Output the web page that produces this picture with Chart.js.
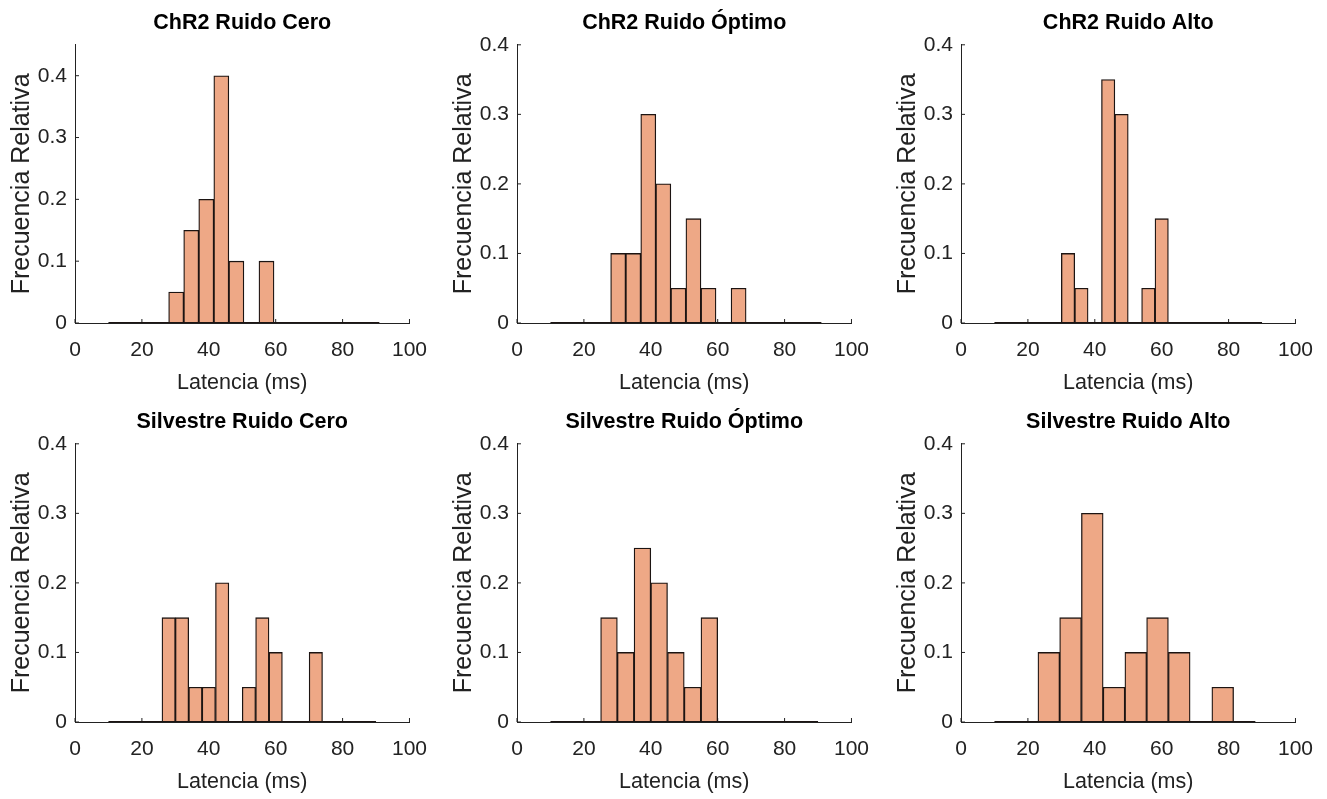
<!DOCTYPE html>
<html>
<head>
<meta charset="utf-8">
<script src="https://cdn.jsdelivr.net/npm/chart.js@4.4.0/dist/chart.umd.min.js"></script>
<style>
  body { margin: 0; background: #fff; width: 1327px; height: 799px; overflow: hidden; position: relative; }
  canvas { position: absolute; }
</style>
</head>
<body>
<script>
// histogram data, relative frequency per bin (bins start at binStart, fixed width)
const titles = ["ChR2 Ruido Cero", "ChR2 Ruido Óptimo", "ChR2 Ruido Alto",
                "Silvestre Ruido Cero", "Silvestre Ruido Óptimo", "Silvestre Ruido Alto"];
const binStart = [10, 10, 10, 10, 10, 10];
const binWidth = [4.5, 4.5, 4, 4, 5, 6.5];

const chr2Cero     = [0, 0, 0, 0, 0.05, 0.15, 0.2, 0.4, 0.1, 0, 0.1, 0, 0, 0, 0, 0, 0, 0];
const chr2Optimo   = [0, 0, 0, 0, 0.1, 0.1, 0.3, 0.2, 0.05, 0.15, 0.05, 0, 0.05, 0, 0, 0, 0, 0];
const chr2Alto     = [0, 0, 0, 0, 0, 0.1, 0.05, 0, 0.35, 0.3, 0, 0.05, 0.15, 0, 0, 0, 0, 0, 0, 0];
const silvCero     = [0, 0, 0, 0, 0.15, 0.15, 0.05, 0.05, 0.2, 0, 0.05, 0.15, 0.1, 0, 0, 0.1, 0, 0, 0, 0];
const silvOptimo   = [0, 0, 0, 0.15, 0.1, 0.25, 0.2, 0.1, 0.05, 0.15, 0, 0, 0, 0, 0, 0];
const silvAlto     = [0, 0, 0.1, 0.15, 0.3, 0.05, 0.1, 0.15, 0.1, 0, 0.05, 0];
const series = [chr2Cero, chr2Optimo, chr2Alto, silvCero, silvOptimo, silvAlto];

const xTicks = [0, 20, 40, 60, 80, 100];
const yTicks = [0, 0.1, 0.2, 0.3, 0.4];
const yMax = [0.45, 0.4, 0.4, 0.4, 0.4, 0.4];
const xLabel = "Latencia (ms)";
const yLabel = "Frecuencia Relativa";

const font = "'Liberation Sans', Arial, Helvetica, sans-serif";
const textColor = "#222";
const axisColor = "#222";
const fillColor = "rgb(238,168,134)";
const edgeColor = "#1c1412";

const cellLeft = [0, 442, 886];
const cellTop = [0, 399];

// small inward tick marks like matlab
const innerTicks = {
  id: "innerTicks",
  beforeDatasetsDraw(chart) {
    const { ctx } = chart;
    const x = chart.scales.x, y = chart.scales.y;
    ctx.save();
    ctx.strokeStyle = axisColor;
    ctx.lineWidth = 1;
    ctx.beginPath();
    x.ticks.forEach(t => {
      const px = x.getPixelForValue(t.value);
      ctx.moveTo(px, y.bottom);
      ctx.lineTo(px, y.bottom - 4);
    });
    y.ticks.forEach(t => {
      const py = y.getPixelForValue(t.value);
      ctx.moveTo(x.left, py);
      ctx.lineTo(x.left + 4, py);
    });
    ctx.stroke();
    ctx.restore();
  }
};

series.forEach((vals, i) => {
  const canvas = document.createElement("canvas");
  canvas.width = 442;
  canvas.height = 399;
  canvas.style.left = cellLeft[i % 3] + "px";
  canvas.style.top = cellTop[Math.floor(i / 3)] + "px";
  document.body.appendChild(canvas);

  const w = binWidth[i];
  const bars = vals.map((v, k) => ({ x: binStart[i] + w * (k + 0.5), y: v }));
  const base = [{ x: binStart[i], y: 0 }, { x: binStart[i] + w * vals.length, y: 0 }];

  new Chart(canvas.getContext("2d"), {
    type: "bar",
    data: {
      datasets: [
        {
          data: bars,
          backgroundColor: fillColor,
          borderColor: edgeColor,
          borderWidth: 1.3,
          borderSkipped: false,
          categoryPercentage: 1,
          barPercentage: 1,
          order: 1
        },
        {
          type: "line",
          data: base,
          borderColor: edgeColor,
          borderWidth: 2,
          pointRadius: 0,
          order: 0
        }
      ]
    },
    options: {
      responsive: false,
      animation: false,
      events: [],
      layout: { padding: { left: 0, right: 32, top: 0, bottom: 0 } },
      plugins: {
        legend: { display: false },
        tooltip: { enabled: false },
        title: {
          display: true,
          text: titles[i],
          fullSize: false,
          color: "#000",
          font: { family: font, size: 21.5, weight: "bold" },
          padding: { top: 10, bottom: 9 }
        }
      },
      scales: {
        x: {
          type: "linear",
          min: 0,
          max: 100,
          offset: false,
          grid: { display: false, drawTicks: false },
          border: { display: true, color: axisColor, width: 1 },
          afterBuildTicks: s => { s.ticks = xTicks.map(v => ({ value: v })); },
          afterFit: s => { s.height = 76; },
          ticks: {
            color: textColor,
            padding: 15,
            maxRotation: 0,
            font: { family: font, size: 21 },
            callback: v => String(v)
          },
          title: {
            display: true,
            text: xLabel,
            color: textColor,
            font: { family: font, size: 21.5 },
            padding: { top: 0, bottom: 3 }
          }
        },
        y: {
          min: 0,
          max: yMax[i],
          grid: { display: false, drawTicks: false },
          border: { display: true, color: axisColor, width: 1 },
          afterBuildTicks: s => { s.ticks = yTicks.map(v => ({ value: v })); },
          afterFit: s => { s.width = 75; },
          ticks: {
            color: textColor,
            padding: 8,
            font: { family: font, size: 21 },
            callback: v => String(v)
          },
          title: {
            display: true,
            text: yLabel,
            color: textColor,
            font: { family: font, size: 25 },
            padding: { top: 7.5, bottom: 0 }
          }
        }
      }
    },
    plugins: [innerTicks]
  });
});
</script>
</body>
</html>
